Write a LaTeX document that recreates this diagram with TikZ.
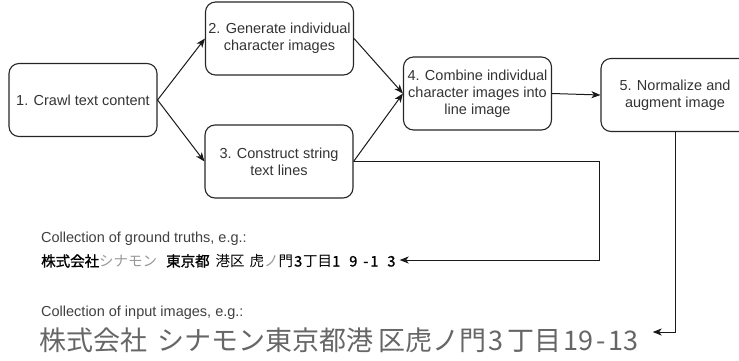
\documentclass[tikz,border=0pt]{standalone}
\usepackage{fontspec}
\setmainfont{Liberation Sans}
\newfontfamily\cjk[AutoFakeBold=1.2]{Noto Sans CJK JP}
\usetikzlibrary{arrows.meta}
\begin{document}
\begin{tikzpicture}[x=1pt,y=-1pt,
 box/.style={draw=black!85, line width=1.1pt, rounded corners=10pt, minimum width=148pt, minimum height=73pt, align=center, inner sep=0pt, font=\fontsize{14.5}{17}\selectfont, text=black!80},
 conn/.style={draw=black!90, line width=1pt, -{Stealth[length=9pt,width=7pt,inset=2.5pt]}},
 lbl/.style={anchor=base west, inner sep=0pt, font=\fontsize{14.5}{17}\selectfont, text=black!75}]
\useasboundingbox (0,0) rectangle (739,360);
\node[box] (n1) at (83,100) {1. Crawl text content};
\node[box] (n2) at (279.5,38.5) {2. Generate individual\\character images};
\node[box] (n3) at (279,161.5) {3. Construct string\\text lines};
\node[box] (n4) at (477.5,93.5) {4. Combine individual\\character images into\\line image};
\node[box] (n5) at (675,95) {5. Normalize and\\augment image};
\node[lbl] (l1) at (41,242) {Collection of ground truths, e.g.:};
\node[lbl] (l2) at (41,316) {Collection of input images, e.g.:};
\node[anchor=west, inner sep=0pt] (gt) at (41,261) {\cjk\fontsize{14.5}{16}\selectfont \textbf{株式会社}\textcolor{black!40}{シナモン}\hspace{9pt}\textbf{東京都}\hspace{6pt}港区\hspace{5pt}虎\textcolor{black!40}{ノ}門\hspace{1pt}\textbf{3}\hspace{1pt}丁目\textbf{1\hspace{9pt}9\hspace{6pt}-\hspace{2pt}1\hspace{9pt}3}};
\node[anchor=west, inner sep=0pt, text=black!60] (hw) at (39,340) {\cjk\fontsize{27}{30}\selectfont 株式会社\hspace{10pt}シナモン東京都港\hspace{5pt}区虎ノ門\hspace{2pt}3\hspace{4pt}丁目\hspace{2pt}19\hspace{3pt}-\hspace{3pt}13};
\coordinate (gtend) at (gt.east);
\coordinate (hwend) at (hw.east);
\draw[conn] (n1.east) -- (n2.west);
\draw[conn] (n1.east) -- (n3.west);
\draw[conn] (n2.east) -- (n4.west);
\draw[conn] (n3.east) -- (n4.west);
\draw[conn] (n4.east) -- (n5.west);
\draw[conn] (n3.east) -- (599,161.5) -- (599,260) -- ([xshift=4pt]gtend |- 0,260);
\draw[conn] (n5.south) -- (675,332) -- ([xshift=14pt]hwend |- 0,332);
\end{tikzpicture}
\end{document}
